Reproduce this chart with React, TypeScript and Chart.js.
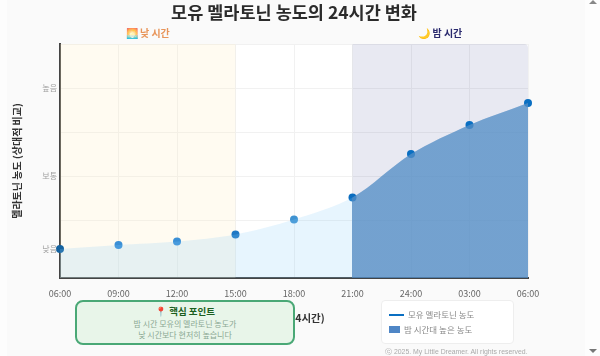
import React, { useEffect, useRef, useState } from "react";
import { Chart, registerables } from "chart.js";

Chart.register(...registerables);

const hours = ["06:00", "09:00", "12:00", "15:00", "18:00", "21:00", "24:00", "03:00", "06:00"];
const melatonin = [6.8, 8.6, 10.2, 13.4, 20.2, 30.2, 50, 63.2, 73.2];
const yTicks = [0, 6.8, 20, 40, 60, 80, 100];
const yTickLabels: Record<number, string> = { 6.8: "낮음", 40: "보통", 80: "높음" };
const dayRange = [0, 3];
const nightRange = [5, 8];
const pointColors = ["#14629f", "#3a8fd6", "#3a8fd6", "#1f78c4", "#3f93d2", "#0a6cbf", "#0a6fc2", "#0a6fc2", "#0a6fc2"];

const FONT = '"Noto Sans CJK KR", "Noto Sans", sans-serif';

const zones = {
  id: "zones",
  beforeDatasetsDraw(c: any) {
    const { ctx, chartArea: a, scales } = c;
    const x = scales.x;
    ctx.save();
    ctx.fillStyle = "rgba(255,238,190,0.22)";
    const d0 = x.getPixelForValue(dayRange[0]);
    const d1 = x.getPixelForValue(dayRange[1]);
    ctx.fillRect(d0, a.top, d1 - d0, a.bottom - a.top);
    ctx.fillStyle = "rgba(26,35,126,0.1)";
    const n0 = x.getPixelForValue(nightRange[0]);
    const n1 = x.getPixelForValue(nightRange[1]);
    ctx.beginPath();
    ctx.roundRect(n0, a.top, n1 - n0, a.bottom - a.top, [0, 4, 0, 0]);
    ctx.fill();
    ctx.restore();
  },
  beforeDraw(c: any) {
    const { ctx, chartArea: a } = c;
    ctx.save();
    ctx.fillStyle = "#ffffff";
    ctx.fillRect(a.left, a.top, a.right - a.left, a.bottom - a.top);
    ctx.restore();
  },
  afterDraw(c: any) {
    const { ctx, chartArea: a, scales } = c;
    const x = scales.x;
    ctx.save();
    ctx.textAlign = "center";
    ctx.textBaseline = "middle";
    ctx.font = `bold 10px ${FONT}`;
    ctx.fillStyle = "#e8955a";
    ctx.fillText("🌅 낮 시간", (x.getPixelForValue(dayRange[0]) + x.getPixelForValue(dayRange[1])) / 2, a.top - 11);
    ctx.fillStyle = "#2a2a6e";
    ctx.fillText("🌙 밤 시간", (x.getPixelForValue(nightRange[0]) + x.getPixelForValue(nightRange[1])) / 2, a.top - 11);
    ctx.restore();
  },
};

const nightFill = (ctx: any) => {
  const chart = ctx.chart;
  const xs = chart.scales.x;
  const a = chart.chartArea;
  if (!a || !xs) return "rgba(65,120,180,0.72)";
  const g = chart.ctx.createLinearGradient(a.left, 0, a.right, 0);
  const r = (xs.getPixelForValue(nightRange[0]) - a.left) / (a.right - a.left);
  g.addColorStop(0, "rgba(65,120,180,0)");
  g.addColorStop(r, "rgba(65,120,180,0)");
  g.addColorStop(r, "rgba(65,120,180,0.72)");
  g.addColorStop(1, "rgba(65,120,180,0.72)");
  return g;
};

export default function App() {
  const ref = useRef<HTMLCanvasElement>(null);
  const [axisLabels, setAxisLabels] = useState<{ text: string; top: number; left: number }[]>([]);
  useEffect(() => {
    document.body.style.margin = "0";
    document.body.style.background = "#fdfdfd";
    const chart: any = new Chart(ref.current as HTMLCanvasElement, {
      type: "line",
      plugins: [zones],
      data: {
        labels: hours,
        datasets: [
          {
            label: "area",
            data: melatonin,
            borderWidth: 0,
            pointRadius: 0,
            tension: 0.3,
            fill: "start",
            backgroundColor: "rgba(135,206,250,0.2)",
          },
          {
            label: "밤 시간대 높은 농도",
            data: melatonin,
            borderWidth: 0,
            pointRadius: 0,
            tension: 0.3,
            fill: "start",
            backgroundColor: nightFill,
          },
          {
            label: "모유 멜라토닌 농도",
            data: melatonin,
            showLine: false,
            clip: false,
            pointRadius: 4,
            pointBorderWidth: 0,
            pointBackgroundColor: pointColors,
          },
        ],
      } as any,
      options: {
        responsive: false,
        animation: false,
        layout: { padding: { right: 72, left: 0, top: 0, bottom: 0 } },
        plugins: {
          legend: { display: false },
          tooltip: { enabled: false },
          title: {
            display: true,
            fullSize: false,
            text: "모유 멜라토닌 농도의 24시간 변화",
            color: "#2b2b2b",
            font: { family: FONT, size: 17.5, weight: "bold" },
            padding: { top: 2, bottom: 21 },
          },
        },
        scales: {
          x: {
            offset: false,
            afterFit: (s: any) => { s.height = 78; },
            border: { color: "#444", width: 2 },
            grid: { color: "#f1f1f1", drawTicks: false },
            ticks: {
              color: "#666",
              padding: 10,
              font: { family: FONT, size: 9 },
              maxRotation: 0,
              autoSkip: false,
            },
            title: {
              display: true,
              text: "시간 (24시간)",
              color: "#333",
              font: { family: FONT, size: 10.5, weight: "bold" },
              padding: { top: 0, bottom: 32 },
            },
          },
          y: {
            min: -6.36,
            max: 100,
            afterFit: (s: any) => { s.width = 60; },
            afterBuildTicks: (s: any) => { s.ticks = yTicks.map((v) => ({ value: v })); },
            border: { color: "#444", width: 2 },
            grid: {
              drawTicks: false,
              color: (ctx: any) =>
                ctx.tick && (yTickLabels[ctx.tick.value] === "낮음" || ctx.tick.value === 0) ? "transparent" : "#f1f1f1",
            },
            ticks: { display: false },
            title: {
              display: true,
              text: "멜라토닌 농도 (상대적 비교)",
              color: "#333",
              font: { family: FONT, size: 10, weight: "bold" },
              padding: { top: 11, bottom: 0 },
            },
          },
        },
      },
    } as any);
    setAxisLabels(
      yTicks
        .filter((v) => yTickLabels[v])
        .map((v) => ({ text: yTickLabels[v], top: chart.scales.y.getPixelForValue(v), left: chart.chartArea.left })),
    );
    return () => chart.destroy();
  }, []);

  return (
    <div style={{ position: "relative", width: 600, height: 356, overflow: "hidden", fontFamily: FONT, filter: "blur(0.3px)" }}>
      <div style={{ position: "absolute", left: 7, top: 0, width: 578, height: 356, background: "#fafafa" }} />
      <canvas ref={ref} width={600} height={356} style={{ position: "absolute", left: 0, top: 0, width: 600, height: 356 }} />
      {axisLabels.map((l) => (
        <div
          key={l.text}
          style={{
            position: "absolute", left: l.left - 33, top: l.top - 6, width: 30, height: 12, lineHeight: "12px",
            textAlign: "right", fontSize: 8, color: "#a0a0a0", whiteSpace: "nowrap",
          }}
        >
          {l.text}
        </div>
      ))}
      <div
        style={{
          position: "absolute", left: 75, top: 300, width: 216, height: 41, border: "2px solid #4aa876",
          borderRadius: 8, background: "#e8f5e9", textAlign: "center",
        }}
      >
        <div style={{ fontSize: 9.5, fontWeight: 700, color: "#1b5e20", lineHeight: "13px", marginTop: 3 }}>📍 핵심 포인트</div>
        <div style={{ fontSize: 8, color: "#8aa893", lineHeight: "10.5px", marginTop: 1 }}>
          밤 시간 모유의 멜라토닌 농도가
          <br />
          낮 시간보다 현저히 높습니다
        </div>
      </div>
      <div
        style={{
          position: "absolute", left: 381, top: 300, width: 131, height: 42, border: "1px solid #eeeeee",
          borderRadius: 4, background: "#ffffff", color: "#8a8a8a", fontSize: 8.5,
        }}
      >
        <div style={{ position: "absolute", left: 7, top: 13, width: 15, height: 2, background: "#0a6fc2" }} />
        <div style={{ position: "absolute", left: 26, top: 7, lineHeight: "13px" }}>모유 멜라토닌 농도</div>
        <div style={{ position: "absolute", left: 7, top: 25, width: 11, height: 7, background: "#4f86c6" }} />
        <div style={{ position: "absolute", left: 22, top: 22, lineHeight: "13px" }}>밤 시간대 높은 농도</div>
      </div>
      <div style={{ position: "absolute", left: 385, top: 347, fontSize: 6.9, lineHeight: "10px", color: "#aaaaaa", fontFamily: '"Liberation Sans", sans-serif', whiteSpace: "nowrap" }}>
        ⓒ 2025. My Little Dreamer. All rights reserved.
      </div>
      <div style={{ position: "absolute", left: 589, top: 0, borderLeft: "4px solid transparent", borderRight: "4px solid transparent", borderBottom: "4px solid #888" }} />
      <div style={{ position: "absolute", left: 589, top: 349, borderLeft: "4px solid transparent", borderRight: "4px solid transparent", borderTop: "4px solid #777" }} />
    </div>
  );
}
